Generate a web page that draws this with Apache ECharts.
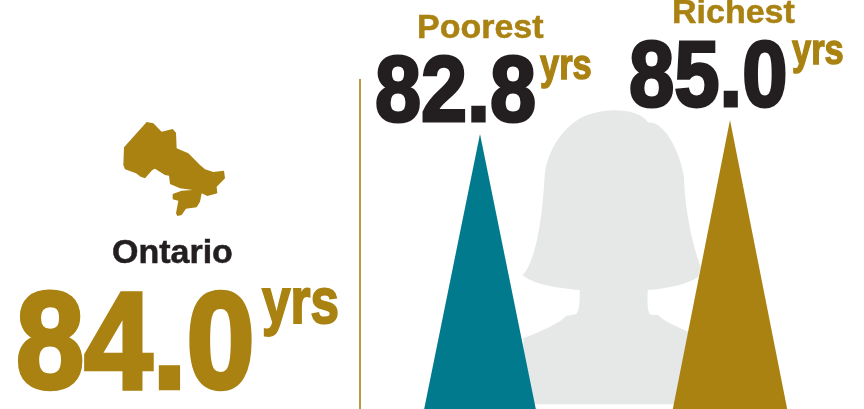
<!DOCTYPE html>
<html>
<head>
<meta charset="utf-8">
<style>html,body{margin:0;padding:0;background:#fff}#c{width:864px;height:409px}</style>
<script src="https://cdn.jsdelivr.net/npm/echarts@6/dist/echarts.min.js"></script>
</head>
<body>
<div id="c"></div>
<script>
const categories = ['Poorest', 'Richest'];
const values = [82.8, 85.0];
const regionName = 'Ontario';
const regionValue = 84.0;
const unit = 'yrs';

const GOLD = '#A98212', TEAL = '#007A8C', DARK = '#231F20', GREY = '#E6E8E8';
const FONT = '"Liberation Sans", Arial, sans-serif';

function txt(str, x, base, size, sx, color, lw) {
  return {
    type: 'text', x: x, y: base + size * 0.212, scaleX: sx, silent: true,
    style: { text: str, x: 0, y: 0, fill: color, stroke: color, lineWidth: lw, align: 'left', verticalAlign: 'bottom',
             font: 'bold ' + size + 'px ' + FONT }
  };
}

const mapPts = [[140,36],[160,40],[185,65],[218,57],[228,68],[230,115],[265,130],[300,165],[315,178],[340,186],[372,182],[375,205],[350,230],[352,250],[322,258],[305,250],[300,275],[290,292],[258,296],[245,315],[232,318],[228,310],[235,272],[218,268],[218,252],[245,242],[278,240],[240,235],[210,222],[207,197],[195,195],[165,176],[157,180],[135,205],[122,200],[108,190],[75,178],[70,165],[72,112]];
const person = 'M38 525 L50 510 C75 465 95 380 103 240 C108 130 190 50 250 40 C300 25 385 25 415 68 C450 60 505 130 522 230 C525 340 550 440 572 500 L565 530 C530 555 470 565 413 570 C413 600 410 640 425 645 L445 645 C455 660 500 680 540 697 L540 913 L40 913 L40 715 C90 695 150 670 168 648 L195 643 C210 640 209 600 209 570 C150 565 70 555 38 525 Z';

echarts.graphic.registerShape('personShape', echarts.graphic.extendPath(person, {}));

const chart = echarts.init(document.getElementById('c'), null, { renderer: 'canvas' });
chart.setOption({
  animation: false,
  backgroundColor: '#fff',
  grid: { left: 355, width: 500, top: 23.5, bottom: 0 },
  xAxis: { type: 'category', data: categories, show: false },
  yAxis: { type: 'value', min: 40, max: 100, show: false },
  series: [{
    type: 'pictorialBar',
    symbol: 'path://M50 0 L100 100 L0 100 Z',
    symbolSize: [216, '100%'],
    barWidth: 113,
    silent: true,
    data: values.map((v, i) => ({ value: v, itemStyle: { color: i === 0 ? TEAL : GOLD } }))
  }],
  graphic: [
    { type: 'personShape', x: 510, y: 100, scaleX: 1/3, scaleY: 1/3, silent: true, style: { fill: GREY } },
    { type: 'polygon', x: 100, y: 110, scaleX: 1/3, scaleY: 1/3, silent: true,
      shape: { points: mapPts }, style: { fill: GOLD } },
    { type: 'line', silent: true, shape: { x1: 360, y1: 79, x2: 360, y2: 409 }, style: { stroke: GOLD, lineWidth: 1.6 } },
    txt(regionName, 112, 263, 33, 1.03, DARK, 0.5),
    txt(regionValue.toFixed(1), 16, 390, 137, 0.895, GOLD, 4.4),
    txt(unit, 262, 324, 64, 0.80, GOLD, 2),
    txt(categories[0], 417, 38, 33, 1.03, GOLD, 0.5),
    txt(values[0].toFixed(1), 375, 122.5, 92, 0.90, DARK, 3),
    txt(unit, 540, 79.5, 42, 0.82, GOLD, 1.4),
    txt(categories[1], 672, 23, 33, 1.03, GOLD, 0.5),
    txt(values[1].toFixed(1), 629, 107.5, 92, 0.885, DARK, 3),
    txt(unit, 792, 64.5, 42, 0.82, GOLD, 1.4)
  ]
});
</script>
</body>
</html>
